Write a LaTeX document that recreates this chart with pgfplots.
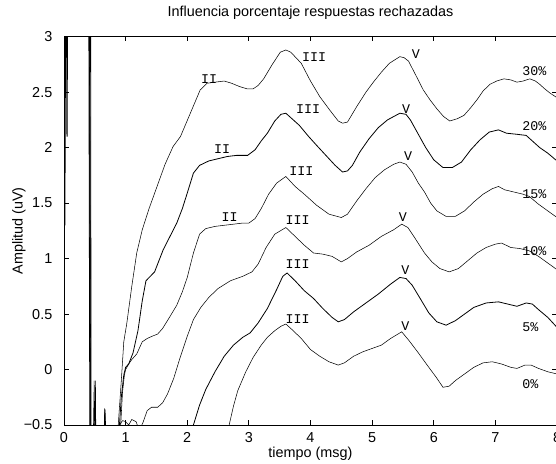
\documentclass[border=0pt]{standalone}
\usepackage{fontspec}
\setmainfont{Liberation Sans}
\newfontfamily\monof{Liberation Mono}
\usepackage{pgfplots}
\pgfplotsset{compat=1.18}
\tikzset{lbl/.style={font=\monof\fontsize{10}{12}\selectfont, inner sep=0pt}}

\begin{document}
\fontsize{10.8}{13}\selectfont
\begin{tikzpicture}
\begin{axis}[
    name=ax,
    scale only axis,
    width=369.75pt, height=291.25pt,
    xmin=0, xmax=8, ymin=-0.5, ymax=3,
    xtick={0,1,...,8},
    ytick={-0.5,0,0.5,1,1.5,2,2.5,3},
    yticklabels={−0.5,0,0.5,1,1.5,2,2.5,3},
    tick align=inside,
    tick pos=both,
    major tick length=3.5pt,
    axis line style={line width=0.6pt},
    every tick/.style={black, line width=0.6pt},
    /pgf/number format/assume math mode=true,
    xticklabel style={anchor=base, yshift=-12.75pt},
    yticklabel style={anchor=east, xshift=-5pt},
    title={Influencia porcentaje respuestas rechazadas},
    title style={at={(axis description cs:0.5,1)}, anchor=base, yshift=8.8pt},
    xlabel={tiempo (msg)},
    xlabel style={at={(axis description cs:0.5,0)}, anchor=base, yshift=-24.5pt},
    ylabel={Amplitud (uV)},
    ylabel style={at={(axis description cs:-0.0838,0.5)}, anchor=base},
    cycle list={{black, line width=0.6pt, no marks}},
]

% 30%
\addplot coordinates {
(0.035,3.8) (0.045,2.1) (0.05,3.8) (0.055,2.1) (0.06,3.8) (0.41,3.8) (0.425,-0.8)
(0.47,-0.8) (0.49,-0.1) (0.5,-0.8) (0.51,-0.1) (0.52,-0.8) (0.86,-0.8)
(0.88,-0.5) (0.93,-0.1) (0.97,0.25) (1.02,0.42) (1.1,0.75) (1.18,1.05) (1.27,1.26)
(1.38,1.45) (1.51,1.65) (1.64,1.85) (1.77,2.01) (1.89,2.10) (2.05,2.31) (2.21,2.52)
(2.32,2.58) (2.45,2.59) (2.6,2.6) (2.72,2.58) (2.85,2.55) (2.97,2.53) (3.07,2.53)
(3.15,2.56) (3.24,2.62) (3.38,2.75) (3.51,2.86) (3.6,2.88) (3.68,2.86) (3.85,2.76)
(4.0,2.6) (4.15,2.46) (4.31,2.34) (4.45,2.24) (4.52,2.22) (4.6,2.23) (4.75,2.37)
(4.9,2.5) (5.02,2.59) (5.15,2.68) (5.28,2.76) (5.45,2.82) (5.52,2.81) (5.59,2.78)
(5.72,2.64) (5.83,2.52) (5.94,2.43) (6.05,2.35) (6.16,2.28) (6.26,2.24) (6.38,2.26)
(6.49,2.29) (6.6,2.36) (6.7,2.43) (6.8,2.51) (6.91,2.57) (7.02,2.6) (7.14,2.62)
(7.25,2.61) (7.35,2.59) (7.45,2.6) (7.56,2.62) (7.65,2.6) (7.72,2.57) (7.8,2.53)
(7.89,2.49) (8.0,2.45)
};

% 20%
\addplot coordinates {
(0.0,3.8) (0.015,1.3) (0.03,3.8) (0.40,3.8) (0.42,-0.8) (0.64,-0.8) (0.665,-0.36)
(0.69,-0.8) (0.88,-0.8)
(0.9,-0.5) (0.93,-0.25) (0.97,-0.05) (1.0,0.02) (1.05,0.05) (1.12,0.15) (1.2,0.35)
(1.27,0.62) (1.33,0.8) (1.4,0.84) (1.47,0.88) (1.61,1.08) (1.72,1.2) (1.83,1.32)
(1.92,1.45) (2.0,1.59) (2.1,1.77) (2.2,1.84) (2.35,1.88) (2.5,1.9) (2.65,1.92)
(2.8,1.93) (2.98,1.93) (3.1,1.98) (3.2,2.06) (3.3,2.13) (3.42,2.24) (3.52,2.3)
(3.6,2.31) (3.7,2.26) (3.82,2.2) (3.97,2.1) (4.1,2.02) (4.25,1.93) (4.4,1.84)
(4.52,1.78) (4.6,1.79) (4.68,1.84) (4.8,1.96) (4.95,2.08) (5.1,2.18) (5.25,2.25)
(5.45,2.31) (5.55,2.3) (5.62,2.25) (5.75,2.12) (5.87,2.0) (6.0,1.89) (6.15,1.82)
(6.3,1.82) (6.45,1.87) (6.6,1.98) (6.75,2.07) (6.9,2.14) (7.05,2.16) (7.18,2.13)
(7.35,2.12) (7.5,2.11) (7.6,2.06) (7.72,2.0) (7.85,1.95) (8.0,1.88)
};

% 15%
\addplot coordinates {
(0.41,3.8) (0.43,-0.8) (0.49,-0.8) (0.505,-0.3) (0.52,-0.8) (0.9,-0.8)
(0.92,-0.5) (0.95,-0.2) (0.98,-0.05) (1.0,0.0) (1.05,0.05) (1.1,0.09) (1.18,0.14)
(1.27,0.25) (1.35,0.28) (1.43,0.3) (1.52,0.32) (1.6,0.37) (1.7,0.46) (1.83,0.58)
(1.92,0.7) (2.0,0.83) (2.1,1.05) (2.2,1.22) (2.3,1.27) (2.45,1.29) (2.6,1.3)
(2.75,1.31) (2.9,1.32) (3.0,1.32) (3.1,1.36) (3.2,1.45) (3.32,1.58) (3.45,1.68)
(3.6,1.74) (3.75,1.65) (3.9,1.58) (4.1,1.48) (4.3,1.4) (4.5,1.37) (4.6,1.4)
(4.75,1.52) (4.9,1.63) (5.05,1.73) (5.2,1.8) (5.35,1.85) (5.45,1.87) (5.55,1.85)
(5.65,1.78) (5.75,1.68) (5.85,1.6) (5.95,1.5) (6.05,1.43) (6.2,1.38) (6.35,1.38)
(6.5,1.43) (6.65,1.51) (6.8,1.58) (6.95,1.63) (7.05,1.65) (7.15,1.62) (7.3,1.6)
(7.45,1.58) (7.55,1.56) (7.7,1.49) (7.85,1.43) (8.0,1.37)
};

% 10%
\addplot coordinates {
(0.415,3.8) (0.435,-0.8) (0.64,-0.8) (0.66,-0.35) (0.69,-0.8) (0.88,-0.8)
(0.9,-0.5) (0.95,-0.46) (1.0,-0.47) (1.05,-0.5) (1.1,-0.45) (1.17,-0.47)
(1.22,-0.55) (1.28,-0.48) (1.35,-0.37) (1.42,-0.34) (1.52,-0.34) (1.6,-0.3)
(1.68,-0.22) (1.78,-0.08) (1.88,0.1) (2.0,0.3) (2.1,0.45) (2.22,0.56) (2.35,0.65)
(2.5,0.73) (2.7,0.8) (2.9,0.84) (3.05,0.88) (3.15,0.95) (3.28,1.1) (3.42,1.22)
(3.6,1.28) (3.75,1.2) (3.9,1.12) (4.05,1.05) (4.2,1.04) (4.35,1.02) (4.5,0.97)
(4.6,1.0) (4.75,1.06) (4.95,1.12) (5.15,1.2) (5.35,1.26) (5.48,1.31) (5.58,1.28)
(5.7,1.18) (5.85,1.05) (5.97,0.97) (6.1,0.91) (6.25,0.88) (6.4,0.91) (6.55,0.98)
(6.7,1.05) (6.85,1.1) (7.0,1.13) (7.1,1.14) (7.25,1.1) (7.4,1.09) (7.55,1.07)
(7.7,1.02) (7.85,0.96) (8.0,0.9)
};

% 5%
\addplot coordinates {
(0.43,3.8) (0.44,-0.8) (2.0,-0.8)
(2.1,-0.5) (2.2,-0.32) (2.3,-0.18) (2.45,-0.02) (2.6,0.12) (2.75,0.22) (2.9,0.29)
(3.02,0.33) (3.15,0.42) (3.3,0.55) (3.45,0.72) (3.55,0.84) (3.62,0.87) (3.75,0.8)
(3.9,0.71) (4.05,0.64) (4.2,0.55) (4.35,0.47) (4.45,0.43) (4.55,0.45) (4.7,0.52)
(4.9,0.6) (5.1,0.68) (5.3,0.77) (5.45,0.83) (5.55,0.82) (5.65,0.76) (5.78,0.64)
(5.92,0.51) (6.05,0.43) (6.2,0.4) (6.35,0.44) (6.5,0.5) (6.65,0.56) (6.85,0.6)
(7.05,0.61) (7.2,0.59) (7.35,0.57) (7.5,0.6) (7.6,0.59) (7.7,0.54) (7.85,0.47)
(8.0,0.38)
};

% 0%
\addplot coordinates {
(2.68,-0.5) (2.75,-0.33) (2.82,-0.19) (2.95,-0.02) (3.07,0.11) (3.2,0.22) (3.3,0.29)
(3.42,0.35) (3.52,0.39) (3.6,0.41) (3.7,0.36) (3.85,0.28) (4.0,0.18) (4.15,0.12)
(4.3,0.07) (4.45,0.04) (4.55,0.06) (4.7,0.12) (4.85,0.16) (5.0,0.19) (5.15,0.22)
(5.3,0.28) (5.48,0.34) (5.6,0.26) (5.75,0.15) (5.88,0.05) (6.04,-0.07) (6.15,-0.16)
(6.25,-0.15) (6.35,-0.1) (6.5,-0.04) (6.65,0.02) (6.8,0.06) (6.95,0.07) (7.1,0.05)
(7.25,0.02) (7.35,0.01) (7.48,0.04) (7.58,0.04) (7.7,0.01) (7.85,-0.02) (8.0,-0.04)
};

\node[lbl] at (axis cs:2.354,2.616) {II};
\node[lbl] at (axis cs:2.565,1.99) {II};
\node[lbl] at (axis cs:2.687,1.375) {II};
\node[lbl] at (axis cs:4.06,2.82) {III};
\node[lbl] at (axis cs:3.96,2.35) {III};
\node[lbl] at (axis cs:3.85,1.79) {III};
\node[lbl] at (axis cs:3.79,1.35) {III};
\node[lbl] at (axis cs:3.79,0.95) {III};
\node[lbl] at (axis cs:3.79,0.455) {III};
\node[lbl] at (axis cs:5.71,2.84) {V};
\node[lbl] at (axis cs:5.55,2.345) {V};
\node[lbl] at (axis cs:5.585,1.925) {V};
\node[lbl] at (axis cs:5.50,1.37) {V};
\node[lbl] at (axis cs:5.54,0.90) {V};
\node[lbl] at (axis cs:5.54,0.39) {V};
\node[lbl, anchor=west] at (axis cs:7.435,2.69) {30\%};
\node[lbl, anchor=west] at (axis cs:7.435,2.195) {20\%};
\node[lbl, anchor=west] at (axis cs:7.435,1.58) {15\%};
\node[lbl, anchor=west] at (axis cs:7.435,1.07) {10\%};
\node[lbl, anchor=west] at (axis cs:7.435,0.38) {5\%};
\node[lbl, anchor=west] at (axis cs:7.435,-0.13) {0\%};
\end{axis}
\pgfresetboundingbox
\useasboundingbox ([xshift=-48pt,yshift=-28.5pt]ax.south west)
    rectangle ([xshift=-0.75pt,yshift=27.5pt]ax.north east);
\end{tikzpicture}
\end{document}
